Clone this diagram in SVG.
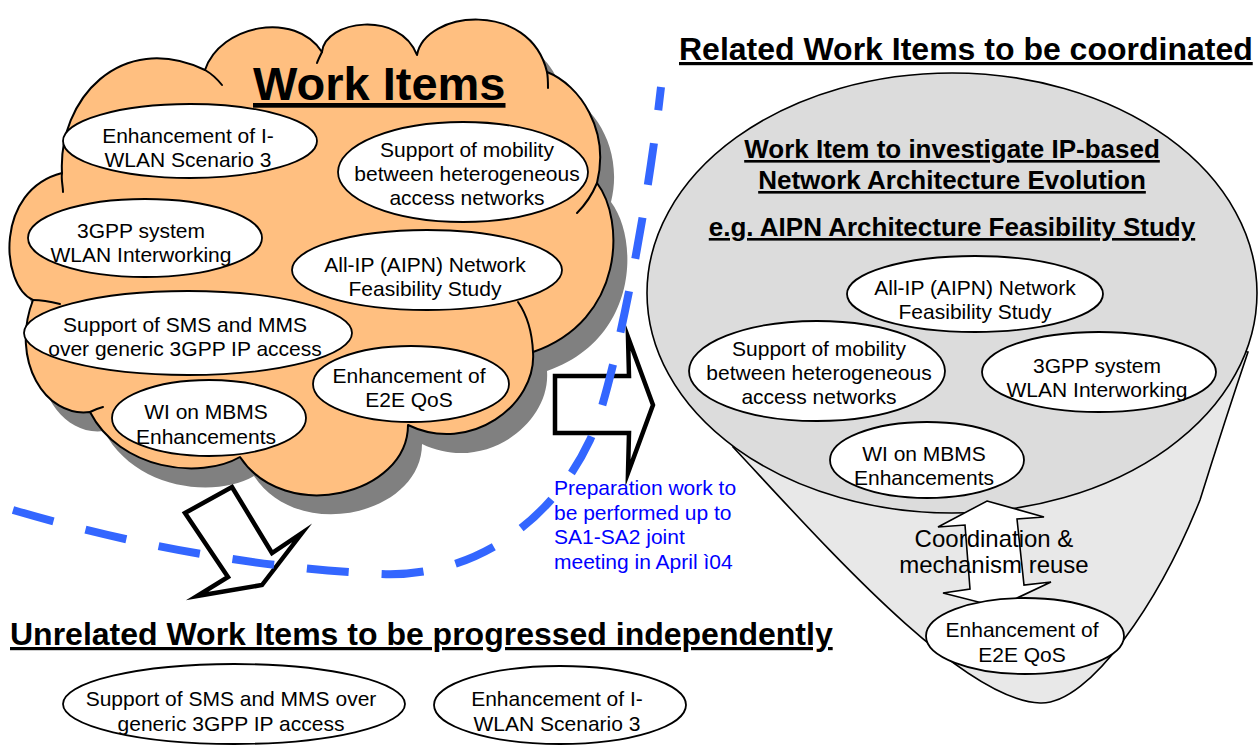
<svg xmlns="http://www.w3.org/2000/svg" width="1258" height="745" viewBox="0 0 1258 745">
  <style>
    .lbl { font-family: "Liberation Sans", Arial, sans-serif; font-size: 21px; fill: #000; text-anchor: middle; }
    .head { font-family: "Liberation Sans", Arial, sans-serif; font-weight: bold; fill: #000; text-decoration: underline; }
    .node { fill: #fff; stroke: #000; stroke-width: 1.8; }
    .stub { fill: none; stroke: #000; stroke-width: 2; stroke-linecap: round; }
    .block { fill: #fff; stroke: #000; stroke-width: 4.5; stroke-linejoin: miter; stroke-miterlimit: 10; }
    .note { font-family: "Liberation Sans", Arial, sans-serif; font-size: 21px; fill: #0000ff; }
  </style>
  <defs>
    <path id="cloudShape" d="M62,173 C58,100 120,30 205,70 C220,25 295,10 322,52 C325,20 400,10 417,55 C425,10 530,0 547,72 C580,85 610,130 597,183 C625,220 625,320 533,352 C537,405 470,455 408,425 C408,495 285,525 240,457 C200,480 120,470 90,412 C45,418 10,360 33,300 C0,285 -5,190 62,173 Z"/>
  </defs>

  <rect width="1258" height="745" fill="#fff"/>

  <!-- Work item cloud -->
  <g id="cloud-work-items">
    <use href="#cloudShape" transform="translate(14,19)" fill="#808080"/>
    <use href="#cloudShape" fill="#ffbf80" stroke="#000" stroke-width="2" stroke-linejoin="round"/>
    <path class="stub" d="M62,173 C61,180 63,186 63,192"/>
    <path class="stub" d="M205,70 C212,74 218,80 222,85"/>
    <path class="stub" d="M322,52 C320,56 318,60 317,63"/>
    <path class="stub" d="M547,72 C548,77 548,83 548,88"/>
    <path class="stub" d="M597,183 C592,195 585,205 577,213"/>
    <path class="stub" d="M533,352 C532,330 527,315 518,302"/>
    <path class="stub" d="M90,412 C94,410 99,408 103,407"/>
    <path class="stub" d="M33,300 C42,300 52,302 60,304"/>
    <text class="head" x="253" y="100" font-size="47">Work Items</text>
  </g>

  <g id="cloud-iwlan">
    <ellipse class="node" cx="190" cy="141" rx="127" ry="37"/>
    <text class="lbl"><tspan x="188" y="143">Enhancement of I-</tspan><tspan x="188" y="167">WLAN Scenario 3</tspan></text>
  </g>
  <g id="cloud-mobility">
    <ellipse class="node" cx="463" cy="172" rx="125" ry="50"/>
    <text class="lbl"><tspan x="467" y="157">Support of mobility</tspan><tspan x="467" y="181">between heterogeneous</tspan><tspan x="467" y="205">access networks</tspan></text>
  </g>
  <g id="cloud-wlan-interworking">
    <ellipse class="node" cx="145" cy="238" rx="117" ry="39"/>
    <text class="lbl"><tspan x="141" y="238">3GPP system</tspan><tspan x="141" y="262">WLAN Interworking</tspan></text>
  </g>
  <g id="cloud-aipn">
    <ellipse class="node" cx="427" cy="270" rx="135" ry="40"/>
    <text class="lbl"><tspan x="425" y="272">All-IP (AIPN) Network</tspan><tspan x="425" y="296">Feasibility Study</tspan></text>
  </g>
  <g id="cloud-sms-mms">
    <ellipse class="node" cx="188" cy="333" rx="164" ry="42"/>
    <text class="lbl"><tspan x="185" y="332">Support of SMS and MMS</tspan><tspan x="185" y="356">over generic 3GPP IP access</tspan></text>
  </g>
  <g id="cloud-e2e-qos">
    <ellipse class="node" cx="411" cy="384" rx="98" ry="38"/>
    <text class="lbl"><tspan x="409" y="383">Enhancement of</tspan><tspan x="409" y="407">E2E QoS</tspan></text>
  </g>
  <g id="cloud-mbms">
    <ellipse class="node" cx="209" cy="418" rx="97" ry="38"/>
    <text class="lbl"><tspan x="206" y="419">WI on MBMS</tspan><tspan x="206" y="444">Enhancements</tspan></text>
  </g>

  <!-- Related work items: funnel with the architecture study on top -->
  <g id="related-area">
    <text class="head" x="679" y="60" font-size="32">Related Work Items to be coordinated</text>
    <path d="M733,447 C820,540 960,700 1040,703 C1090,705 1160,600 1200,500 Q1225,420 1248,352 L990,300 Z" fill="#e8e8e8" stroke="#000" stroke-width="1.6"/>
    <ellipse cx="952" cy="293" rx="305" ry="220" fill="#dcdcdc" stroke="#000" stroke-width="1.6"/>
    <text class="head" font-size="26" text-anchor="middle"><tspan x="952" y="158">Work Item to investigate IP-based</tspan><tspan x="952" y="189">Network Architecture Evolution</tspan></text>
    <text class="head" font-size="26" text-anchor="middle" x="952" y="236">e.g. AIPN Architecture Feasibility Study</text>
  </g>

  <g id="related-aipn">
    <ellipse class="node" cx="975" cy="294" rx="128" ry="38"/>
    <text class="lbl"><tspan x="975" y="295">All-IP (AIPN) Network</tspan><tspan x="975" y="319">Feasibility Study</tspan></text>
  </g>
  <g id="related-mobility">
    <ellipse class="node" cx="817" cy="371" rx="128" ry="50"/>
    <text class="lbl"><tspan x="819" y="356">Support of mobility</tspan><tspan x="819" y="380">between heterogeneous</tspan><tspan x="819" y="404">access networks</tspan></text>
  </g>
  <g id="related-wlan-interworking">
    <ellipse class="node" cx="1099" cy="372" rx="117" ry="40"/>
    <text class="lbl"><tspan x="1097" y="373">3GPP system</tspan><tspan x="1097" y="397">WLAN Interworking</tspan></text>
  </g>
  <g id="related-mbms">
    <ellipse class="node" cx="927" cy="460" rx="97" ry="38"/>
    <text class="lbl"><tspan x="924" y="461">WI on MBMS</tspan><tspan x="924" y="485">Enhancements</tspan></text>
  </g>

  <!-- Unrelated work items -->
  <g id="unrelated-area">
    <text class="head" x="10" y="645" font-size="32">Unrelated Work Items to be progressed independently</text>
  </g>
  <g id="unrelated-sms-mms">
    <ellipse class="node" cx="234" cy="704" rx="171" ry="40"/>
    <text class="lbl"><tspan x="231" y="706">Support of SMS and MMS over</tspan><tspan x="231" y="731">generic 3GPP IP access</tspan></text>
  </g>
  <g id="unrelated-iwlan">
    <ellipse class="node" cx="560" cy="705" rx="126" ry="39"/>
    <text class="lbl"><tspan x="557" y="706">Enhancement of I-</tspan><tspan x="557" y="731">WLAN Scenario 3</tspan></text>
  </g>

  <!-- Connectors -->
  <g id="connectors">
    <polygon class="block" points="555,376 629,376 628,337 653,405 628,473 629,433 555,433"/>
    <polygon class="block" points="185,513 232,487 272,553 302,533 262,585 197,596 228,577"/>
    <polygon points="987,501 1044,517 1017,519 1024,585 1051,582 998,607 943,593 970,589 965,525 938,527" fill="#fff" stroke="#000" stroke-width="1.6"/>
    <path d="M13,510 Q200,565 380,574 C460,578 545,535 590,440 C610,398 645,230 661,87" fill="none" stroke="#3366ff" stroke-width="8" stroke-dasharray="42 33"/>
  </g>

  <g id="related-e2e-qos">
    <ellipse class="node" cx="1025" cy="636" rx="99" ry="38"/>
    <text class="lbl"><tspan x="1022" y="637">Enhancement of</tspan><tspan x="1022" y="662">E2E QoS</tspan></text>
  </g>

  <g id="coordination-label">
    <text class="lbl" font-size="24"><tspan x="994" y="547" style="font-size:24px">Coordination &amp;</tspan><tspan x="994" y="573" style="font-size:24px">mechanism reuse</tspan></text>
  </g>

  <g id="preparation-note">
    <text class="note"><tspan x="554" y="495">Preparation work to</tspan><tspan x="554" y="520">be performed up to</tspan><tspan x="554" y="544">SA1-SA2 joint</tspan><tspan x="554" y="569">meeting in April ì04</tspan></text>
  </g>
</svg>
